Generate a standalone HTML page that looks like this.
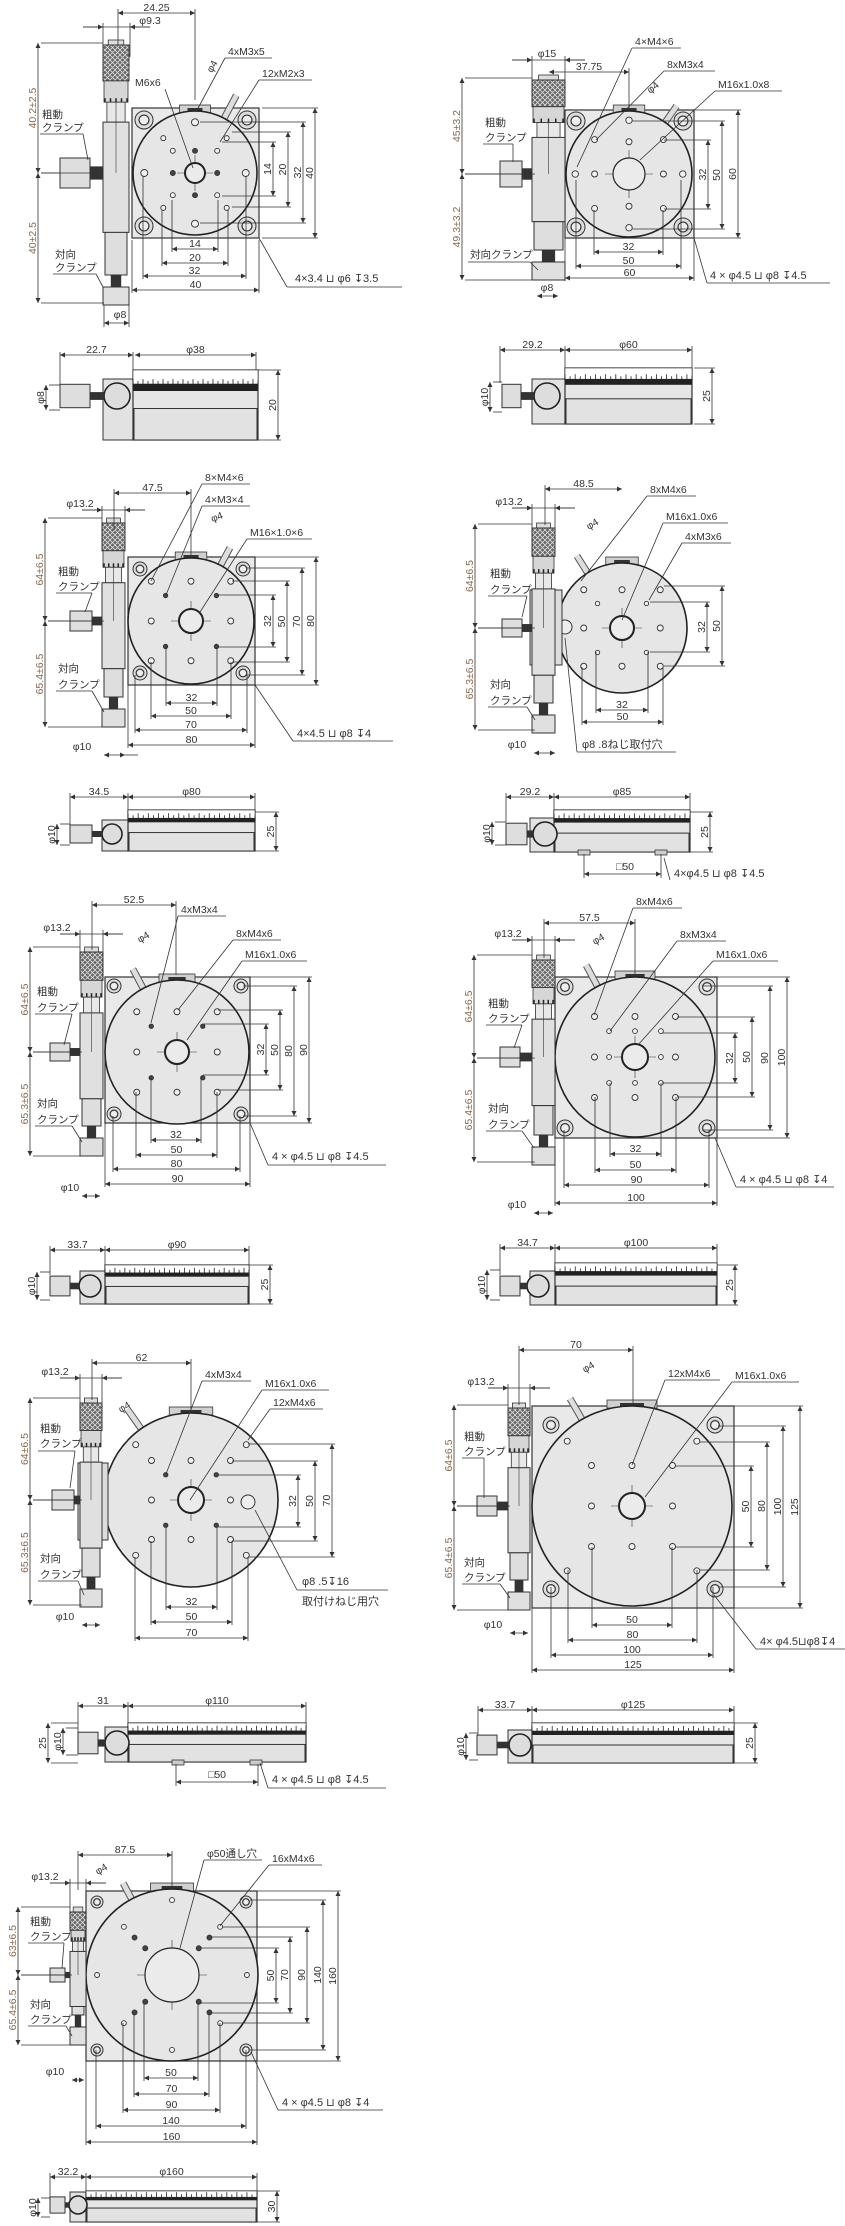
<!DOCTYPE html>
<html><head><meta charset="utf-8">
<style>
html,body{margin:0;padding:0;background:#fff;}
svg{display:block;}
text{font-family:"Liberation Sans","DejaVu Sans","Noto Sans CJK JP",sans-serif;fill:#333;}
</style></head>
<body>
<svg id="s" xmlns="http://www.w3.org/2000/svg" width="845" height="2226" viewBox="0 0 845 2226">
<defs>
<marker id="a" viewBox="0 0 10 10" refX="10" refY="5" markerWidth="7" markerHeight="5" orient="auto-start-reverse" markerUnits="userSpaceOnUse"><path d="M0,0L10,5L0,10z" fill="#333"/></marker>
<pattern id="kn" width="5" height="5" patternUnits="userSpaceOnUse"><rect width="5" height="5" fill="#666"/><path d="M0,0L5,5M5,0L0,5" stroke="#ddd" stroke-width="0.8"/></pattern>
</defs>
</svg>
<script>
var o='';
function L(x1,y1,x2,y2,w,c){o+='<line x1="'+x1+'" y1="'+y1+'" x2="'+x2+'" y2="'+y2+'" stroke="'+(c||'#333')+'" stroke-width="'+(w||0.8)+'"/>';}
function T(x,y,s,sz,an,rot,col){s=s.replace(/⌴/g,'⊔');o+='<text x="'+x+'" y="'+y+'" font-size="'+(sz||10.5)+'" text-anchor="'+(an||'middle')+'"'+(rot!=null?' transform="rotate('+rot+' '+x+' '+y+')"':'')+(col?' style="fill:'+col+'"':'')+'>'+s+'</text>';}
function R(x,y,w,h,f,sw,st){o+='<rect x="'+x+'" y="'+y+'" width="'+w+'" height="'+h+'" fill="'+(f||'#e4e4e4')+'" stroke="'+(st||'#333')+'" stroke-width="'+(sw==null?1:sw)+'"/>';}
function C(x,y,r,f,sw,st){o+='<circle cx="'+x+'" cy="'+y+'" r="'+r+'" fill="'+(f||'none')+'" stroke="'+(st||'#333')+'" stroke-width="'+(sw==null?1:sw)+'"/>';}
function AL(x1,y1,x2,y2){o+='<line x1="'+x1+'" y1="'+y1+'" x2="'+x2+'" y2="'+y2+'" stroke="#333" stroke-width="0.8" marker-start="url(#a)" marker-end="url(#a)"/>';}
function HD(x1,x2,y,t,ey1,ey2){AL(x1,y,x2,y);if(ey1!=null){L(x1,ey1,x1,y+3);L(x2,ey2==null?ey1:ey2,x2,y+3);}T((x1+x2)/2,y-2,t);}
function VD(x,y1,y2,t,ex1,ex2,col){AL(x,y1,x,y2);if(ex1!=null){L(ex1,y1,x+3,y1);L(ex2==null?ex1:ex2,y2,x+3,y2);}T(x-2,(y1+y2)/2,t,10.5,'middle',-90,col);}
var BR='#8b6a4a';
function LD(x,y,t,x2,px,py,ul){T(x,y,t,10.5,'start');var w=ul||t.length*6.2;L(x-3,y+3,x+w,y+3);L(x-3,y+3,px,py);}
function PH(x1,x2,y,t,tx){
 o+='<line x1="'+(x1-20)+'" y1="'+y+'" x2="'+x1+'" y2="'+y+'" stroke="#333" stroke-width="0.8" marker-end="url(#a)"/>';
 o+='<line x1="'+(x2+20)+'" y1="'+y+'" x2="'+x2+'" y2="'+y+'" stroke="#333" stroke-width="0.8" marker-end="url(#a)"/>';
 L(x1-20,y,x2+20,y);L(x1,y-4,x1,y+30);L(x2,y-4,x2,y+30);T(tx,y-3,t);}
function stage(p){
 var cx=p.cx,cy=p.cy,Rr=p.R;
 if(p.plate){var q=p.plate;R(q[0],q[1],q[2]-q[0],q[3]-q[1],'#e9e9e9',1.2);
  var i=p.cb,cr=p.cbR;[[q[0]+i,q[1]+i],[q[2]-i,q[1]+i],[q[0]+i,q[3]-i],[q[2]-i,q[3]-i]].forEach(function(c){C(c[0],c[1],cr,'#dedede',1);C(c[0],c[1],cr*0.55,'#eee',1.2);});}
 R(cx-Rr*0.25,cy-Rr-6,Rr*0.5,8,'#d0d0d0',0.8);R(cx-Rr*0.12,cy-Rr-3,Rr*0.24,4,'#333',0);
 var a=p.pin*Math.PI/180,px=cx+Rr*Math.cos(a),py=cy-Rr*Math.sin(a),px2=cx+(Rr+p.pl)*Math.cos(a),py2=cy-(Rr+p.pl)*Math.sin(a);
 L(px,py,px2,py2,7,'#555');L(px,py,px2,py2,5,'#ddd');
 C(cx,cy,Rr,'#e6e6e6',1.6,'#222');
 L(cx-p.ch-8,cy,cx+p.ch+8,cy,0.6);L(cx,cy-p.ch-8,cx,cy+p.ch+8,0.6);
 C(cx,cy,p.ch,'#ebebeb',p.ch>15?1.2:2,'#222');
 p.holes.forEach(function(h){var s=p.k;var pts=[];
  var sx=h[0]*s,sy=h[1]*s;var set={};[[sx,sy],[-sx,sy],[sx,-sy],[-sx,-sy]].forEach(function(v){var kk=v[0]+','+v[1];if(!set[kk]){set[kk]=1;pts.push(v);}});
  pts.forEach(function(v){C(cx+v[0],cy+v[1],h[2],h[3]?'#444':'#f2f2f2',0.9,'#333');});});
 if(p.big)C(p.big[0],p.big[1],p.big[2],'#eee',1);
 var c=p.col,l=c[0],r=c[1],t=c[2],b=c[3],w=r-l,H=cy-t;
 if(p.blk)R(p.blk[0],p.blk[1],p.blk[2]-p.blk[0],p.blk[3]-p.blk[1],'#dcdcdc',1);
 R(l+w*0.2,t,w*0.6,6,'#ddd',0.8);
 R(l,t+5,w,H*0.27,'url(#kn)',1);
 R(l+1,t+5+H*0.27,w-2,H*0.16,'#d6d6d6',0.8);
 for(var j=0;j<5;j++)L(l+2+j*(w-4)/4,t+5+H*0.43-4,l+2+j*(w-4)/4,t+5+H*0.43,1.5,'#222');
 R(l+w*0.15,t+5+H*0.43,w*0.7,H*0.15,'#e8e8e8',0.8);
 var bt=t+5+H*0.58;var bb=cy+(b-cy)*0.45;
 R(l,bt,w,bb-bt,'#e0e0e0',1);L(l+w/2,t+5+H*0.43,l+w/2,cy,0.6);
 R(l+2,bb,w-4,b-30-bb,'#dedede',1);
 R(l+w*0.3,b-30,w*0.4,12,'#333',0);
 R(l,b-18,w,18,'#e0e0e0',1);
 var ch=p.clh;R(p.clx+p.clw,cy-ch*0.22,l-p.clx-p.clw,ch*0.44,'#333',0);R(p.clx,cy-ch/2,p.clw,ch,'#dedede',1);
 var S=p.side,sh=S.y2-S.y1;
 R(S.bx,S.hy-S.hr-4,S.x1-S.bx,S.y2-(S.hy-S.hr-4),'#e2e2e2',1);
 R(S.x1,S.y1,S.x2-S.x1,sh,'#e6e6e6',1.2);
 R(S.x1,S.y1,S.x2-S.x1,sh*0.2,'#fff',0.6);
 var n=Math.round((S.x2-S.x1)/5);for(var j=0;j<=n;j++){var xx=S.x1+j*(S.x2-S.x1)/n;L(xx,S.y1+sh*0.2-(j%2?3:5),xx,S.y1+sh*0.2+2,0.8,'#222');}
 R(S.x1,S.y1+sh*0.2,S.x2-S.x1,sh*0.1,'#222',0);
 R(S.x1+1,S.y1+sh*0.55,S.x2-S.x1-2,sh*0.45,'#e2e2e2',1);
 C(S.hx,S.hy,S.hr,'#ddd',1.6,'#222');
 R(S.kx2,S.hy-S.hr*0.3,S.hx-S.hr-S.kx2,S.hr*0.6,'#333',0);
 R(S.kx1,S.hy-S.hr*0.9,S.kx2-S.kx1,S.hr*1.8,'#dedede',1);
 if(S.feet)S.feet.forEach(function(f){R(f,S.y2-2,12,5,'#ccc',0.8);});
}
stage({cx:195,cy:173,R:62,plate:[132,108,259,238],cb:12,cbR:9,k:3.17,ch:10,pin:62,pl:26,
 holes:[[16,0,3.5,0],[0,16,3.5,0],[7,0,2.5,1],[0,7,2.5,1],[7,7,2.5,0],[10,11,2.5,0]],
 col:[103,129,40,305],clx:60,clw:30,clh:30,
 side:{x1:133,x2:258,y1:370,y2:440,bx:103,hx:117,hy:396,hr:13,kx1:60,kx2:90}});
HD(118,195,13,'24.25');L(118,9,118,45);L(195,9,195,100);
PH(103,130,27,'φ9.3',150);
VD(38,43,173,'40.2±2.5',103,null,BR);VD(38,173,303,'40±2.5',60,104,BR);
VD(273,142,196,'14',222);VD(288,132,207,'20',232);VD(303,122,223,'32',200);VD(315,108,238,'40',262);
HD(172,218,249,'14',200);HD(162,228,263,'20',210);HD(143,246,276,'32',176);HD(132,259,290,'40',240);
LD(228,55,'4xM3x5',0,196,112,44);LD(262,77,'12xM2x3',0,220,142,50);
T(135,86,'M6x6',10.5,'start');L(165,89,193,168);
T(215,68,'φ4',10,'middle',-60);
T(42,118,'粗動',10.5,'start');T(42,131,'クランプ',10.5,'start');L(40,134,83,134);L(83,134,88,160);
T(55,258,'対向',10.5,'start');T(55,271,'クランプ',10.5,'start');L(53,274,96,274);L(96,274,103,287);
T(295,282,'4×3.4 ⌴ φ6 ↧3.5',11,'start');L(287,287,402,287);L(287,287,259,238);
HD(104,129,323,'');T(120,318,'φ8');L(104,305,104,327);L(129,305,129,327);
HD(60,133,355,'22.7');HD(135,256,355,'φ38');L(60,352,60,395);L(133,352,133,370);L(256,352,256,370);
VD(278,370,440,'20',258);VD(46,385,410,'φ8',60);
stage({cx:629,cy:174,R:63,plate:[565,110,694,238],cb:11,cbR:9,k:2.15,ch:16,pin:55,pl:20,
 holes:[[0,25,3.2,0],[0,15,3,0],[25,0,3.2,0],[16,0,3,0],[16,16,3,0]],
 col:[532,565,75,280],clx:500,clw:22,clh:26,
 side:{x1:565,x2:692,y1:368,y2:424,bx:532,hx:547,hy:396,hr:13,kx1:502,kx2:521}});
PH(532,565,60,'φ15',547);
HD(549,629,72,'37.75');L(629,68,629,110);
VD(462,78,174,'45±3.2',532,null,BR);VD(462,174,280,'49.3±3.2',535,null,BR);
VD(708,140,209,'32',664);VD(722,121,229,'50',632);VD(738,110,238,'60',694);
HD(594,663,252,'32',210);HD(576,681,266,'50',180);HD(565,694,278,'60',238);
LD(635,45,'4×M4×6',0,577,167,46);LD(667,68,'8xM3x4',0,596,140,48);LD(718,88,'M16x1.0x8',0,640,160,64);
T(655,90,'φ4',10,'middle',-40);
T(485,126,'粗動',10.5,'start');T(485,141,'クランプ',10.5,'start');L(483,144,513,144);L(513,144,513,162);
T(470,258,'対向クランプ',10.5,'start');L(468,262,530,262);L(530,262,538,270);
T(710,279,'4 × φ4.5 ⌴ φ8 ↧4.5',11,'start');L(707,283,830,283);L(707,283,694,238);
HD(537,558,296,'');T(547,291,'φ8');
HD(500,565,350,'29.2');HD(565,692,350,'φ60');L(500,346,500,383);L(565,346,565,368);L(692,346,692,368);
VD(712,368,424,'25',694);VD(490,382,412,'φ10',502);
stage({cx:191,cy:621,R:63,plate:[128,557,255,685],cb:12,cbR:7,k:1.59,ch:12,pin:62,pl:20,
 holes:[[25,25,3,0],[0,25,3,0],[25,0,3,0],[16,16,2.2,1]],
 col:[102,125,518,727],clx:70,clw:22,clh:20,
 side:{x1:128,x2:255,y1:810,y2:851,bx:102,hx:112,hy:834,hr:10,kx1:70,kx2:92}});
HD(114,191,493,'47.5');L(114,489,114,530);L(191,489,191,555);
PH(102,125,510,'φ13.2',80);
VD(45,518,621,'64±6.5',102,null,BR);VD(45,621,727,'65.4±6.5',104,null,BR);
VD(273,595,647,'32',218);VD(287,581,662,'50',232);VD(302,568,675,'70',246);VD(316,557,685,'80',255);
HD(166,217,703,'32',647);HD(151,231,716,'50',662);HD(135,247,730,'70',675);HD(128,255,745,'80',685);
LD(205,481,'8×M4×6',0,151,581,45);LD(205,503,'4×M3×4',0,166,595,45);LD(250,536,'M16×1.0×6',0,200,612,62);
T(218,520,'φ4',10,'middle',-20);
T(58,575,'粗動',10.5,'start');T(58,590,'クランプ',10.5,'start');L(56,593,92,593);L(92,593,85,612);
T(58,672,'対向',10.5,'start');T(58,688,'クランプ',10.5,'start');L(56,691,92,691);L(92,691,104,712);
T(297,737,'4×4.5 ⌴ φ8 ↧4',11,'start');L(293,741,393,741);L(293,741,255,685);
HD(104,125,755,'');T(82,750,'φ10');L(125,755,138,755);
HD(70,128,797,'34.5');HD(128,255,797,'φ80');L(70,793,70,826);L(128,793,128,810);L(255,793,255,810);
VD(276,812,851,'25',255);VD(57,824,845,'φ10',70);
stage({cx:622,cy:628,R:65,plate:null,k:1.53,ch:12,pin:122,pl:20,
 holes:[[25,25,3,0],[0,25,3,0],[25,0,3,0],[16,16,2.2,0]],big:[565,627,7],
 col:[532,555,523,733],clx:502,clw:20,clh:18,blk:[530,590,562,665],
 side:{x1:554,x2:690,y1:810,y2:852,bx:530,hx:545,hy:834,hr:12,kx1:506,kx2:527,feet:[578,655]}});
HD(545,622,489,'48.5');L(545,485,545,525);
PH(532,555,508,'φ13.2',509);
VD(475,524,628,'64±6.5',532,null,BR);VD(475,628,730,'65.3±6.5',535,null,BR);
VD(707,602,652,'32',650);VD(722,586,666,'50',664);
HD(596,648,710,'32',652);HD(582,663,722,'50',667);
LD(650,493,'8xM4x6',0,581,581,46);LD(666,520,'M16x1.0x6',0,622,620,62);LD(685,540,'4xM3x6',0,649,600,46);
T(594,527,'φ4',10,'middle',-30);
T(490,577,'粗動',10.5,'start');T(490,593,'クランプ',10.5,'start');L(488,596,527,596);L(527,596,522,617);
T(490,688,'対向',10.5,'start');T(490,704,'クランプ',10.5,'start');L(488,707,527,707);L(527,707,535,720);
T(582,748,'φ8 .8ねじ取付穴',11,'start');L(577,752,676,752);L(577,752,565,638);
HD(534,555,753,'');T(517,748,'φ10');
HD(506,554,797,'29.2');HD(554,690,797,'φ85');L(506,793,506,822);L(554,793,554,810);L(690,793,690,810);
VD(710,812,852,'25',690);VD(492,822,845,'φ10',506);
HD(584,661,874,'');T(625,870,'□50');L(584,854,584,878);L(661,854,661,878);
T(674,877,'4×φ4.5 ⌴ φ8 ↧4.5',11,'start');L(664,858,670,880);
stage({cx:177,cy:1052,R:72,plate:[105,977,250,1123],cb:9,cbR:7,k:1.61,ch:12,pin:118,pl:22,
 holes:[[25,25,3,0],[0,25,3,0],[25,0,3,0],[16,16,2.2,1]],
 col:[80,103,947,1156],clx:50,clw:20,clh:18,
 side:{x1:105,x2:249,y1:1265,y2:1304,bx:80,hx:90,hy:1286,hr:11,kx1:50,kx2:70}});
HD(92,176,905,'52.5');L(92,901,92,950);L(176,901,176,975);
PH(80,103,934,'φ13.2',57);
VD(30,947,1052,'64±6.5',80,null,BR);VD(30,1052,1156,'65.3±6.5',82,null,BR);
VD(266,1024,1075,'32',203);VD(280,1010,1090,'50',218);VD(294,986,1116,'80',243);VD(309,977,1123,'90',250);
HD(151,201,1140,'32',1077);HD(136,217,1155,'50',1092);HD(113,240,1169,'80',1116);HD(105,250,1184,'90',1123);
LD(181,913,'4xM3x4',0,151,1023,45);LD(236,937,'8xM4x6',0,178,1010,45);LD(245,958,'M16x1.0x6',0,187,1040,62);
T(145,940,'φ4',10,'middle',-30);
T(37,995,'粗動',10.5,'start');T(37,1011,'クランプ',10.5,'start');L(35,1014,72,1014);L(72,1014,64,1045);
T(37,1107,'対向',10.5,'start');T(37,1123,'クランプ',10.5,'start');L(35,1126,72,1126);L(72,1126,82,1142);
T(272,1160,'4 × φ4.5 ⌴ φ8 ↧4.5',11,'start');L(268,1165,386,1165);L(268,1165,250,1123);
HD(82,100,1196,'');T(70,1191,'φ10');
HD(50,105,1250,'33.7');HD(105,249,1250,'φ90');L(50,1246,50,1275);L(105,1246,105,1265);L(249,1246,249,1265);
VD(270,1265,1304,'25',249);VD(37,1272,1300,'φ10',50);
stage({cx:635,cy:1057,R:80,plate:[555,977,717,1138],cb:10,cbR:8,k:1.62,ch:13,pin:118,pl:24,
 holes:[[25,25,3,0],[0,25,3,0],[25,0,3,0],[16,0,2.4,0],[0,16,2.4,0],[16,16,2.4,0]],
 col:[532,555,955,1165],clx:500,clw:20,clh:20,
 side:{x1:555,x2:717,y1:1263,y2:1305,bx:530,hx:538,hy:1286,hr:11,kx1:500,kx2:520}});
HD(544,635,923,'57.5');L(544,919,544,958);L(635,919,635,975);
PH(532,555,940,'φ13.2',508);
VD(474,955,1058,'64±6.5',532,null,BR);VD(474,1058,1162,'65.4±6.5',535,null,BR);
VD(735,1033,1083,'32',662);VD(752,1017,1097,'50',677);VD(770,986,1130,'90',702);VD(787,977,1138,'100',717);
HD(610,661,1154,'32',1083);HD(595,676,1170,'50',1097);HD(564,709,1185,'90',1130);HD(555,717,1203,'100',1138);
LD(636,905,'8xM4x6',0,594,1015,46);LD(680,938,'8xM3x4',0,610,1031,46);LD(716,958,'M16x1.0x6',0,638,1045,62);
T(600,942,'φ4',10,'middle',-30);
T(488,1007,'粗動',10.5,'start');T(488,1022,'クランプ',10.5,'start');L(486,1025,522,1025);L(522,1025,514,1048);
T(488,1112,'対向',10.5,'start');T(488,1128,'クランプ',10.5,'start');L(486,1131,522,1131);L(522,1131,534,1148);
T(740,1183,'4 × φ4.5 ⌴ φ8 ↧4',11,'start');L(736,1187,834,1187);L(736,1187,715,1138);
HD(534,553,1213,'');T(517,1208,'φ10');
HD(500,555,1248,'34.7');HD(555,717,1248,'φ100');L(500,1244,500,1275);L(555,1244,555,1263);L(717,1244,717,1263);
VD(735,1265,1305,'25',717);VD(487,1270,1300,'φ10',500);
stage({cx:191,cy:1500,R:87,plate:null,k:1.58,ch:13,pin:125,pl:24,
 holes:[[35,35,3,0],[25,25,3,0],[0,25,3,0],[25,0,3,0],[16,16,2.2,1]],big:[248,1502,7],
 col:[80,102,1398,1607],clx:52,clw:22,clh:20,blk:[78,1463,108,1540],
 side:{x1:128,x2:306,y1:1723,y2:1762,bx:105,hx:117,hy:1743,hr:12,kx1:78,kx2:98,feet:[172,250]}});
HD(92,191,1363,'62');L(92,1359,92,1400);L(191,1359,191,1410);
PH(80,102,1378,'φ13.2',55);
VD(30,1398,1500,'64±6.5',80,null,BR);VD(30,1500,1605,'65.3±6.5',82,null,BR);
VD(298,1475,1527,'32',218);VD(315,1461,1541,'50',232);VD(332,1444,1557,'70',248);
HD(166,217,1607,'32',1527);HD(151,232,1622,'50',1541);HD(135,248,1638,'70',1557);
LD(205,1378,'4xM3x4',0,166,1474,46);LD(265,1387,'M16x1.0x6',0,190,1500,64);LD(273,1406,'12xM4x6',0,248,1440,50);
T(126,1410,'φ4',10,'middle',-30);
T(40,1432,'粗動',10.5,'start');T(40,1447,'クランプ',10.5,'start');L(38,1451,75,1451);L(75,1451,70,1488);
T(40,1562,'対向',10.5,'start');T(40,1578,'クランプ',10.5,'start');L(38,1581,78,1581);L(78,1581,84,1595);
T(302,1585,'φ8 .5↧16',11,'start');T(302,1605,'取付けねじ用穴',11,'start');L(297,1590,388,1590);L(297,1590,255,1510);
HD(82,100,1625,'');T(65,1620,'φ10');
HD(78,128,1706,'31');HD(128,306,1706,'φ110');L(78,1702,78,1735);L(128,1702,128,1723);L(306,1702,306,1723);
VD(48,1723,1763,'25',78);VD(63,1728,1755,'φ10',78);
HD(176,258,1782,'');T(217,1778,'□50');L(176,1764,176,1786);L(258,1764,258,1786);
T(272,1783,'4 × φ4.5 ⌴ φ8 ↧4.5',11,'start');L(268,1788,386,1788);L(268,1788,260,1763);
stage({cx:632,cy:1506,R:100,plate:[532,1406,734,1608],cb:19,cbR:8,k:1.62,ch:13,pin:120,pl:24,
 holes:[[40,40,3,0],[25,25,3,0],[0,25,3,0],[25,0,3,0]],
 col:[508,530,1403,1610],clx:477,clw:20,clh:20,
 side:{x1:532,x2:734,y1:1723,y2:1763,bx:508,hx:520,hy:1745,hr:11,kx1:477,kx2:497}});
HD(519,633,1350,'70');L(519,1346,519,1405);L(633,1346,633,1405);
PH(508,530,1388,'φ13.2',481);
VD(454,1405,1506,'64±6.5',508,null,BR);VD(454,1506,1610,'65.4±6.5',510,null,BR);
VD(751,1466,1547,'50',675);VD(767,1442,1570,'80',700);VD(783,1426,1587,'100',718);VD(800,1406,1608,'125',734);
HD(592,672,1625,'50',1547);HD(568,697,1640,'80',1570);HD(551,713,1655,'100',1587);HD(532,734,1670,'125',1608);
LD(668,1377,'12xM4x6',0,632,1465,52);LD(735,1379,'M16x1.0x6',0,645,1497,64);
T(590,1370,'φ4',10,'middle',-30);
T(464,1440,'粗動',10.5,'start');T(464,1455,'クランプ',10.5,'start');L(462,1458,484,1458);L(484,1458,484,1498);
T(464,1566,'対向',10.5,'start');T(464,1581,'クランプ',10.5,'start');L(462,1584,500,1584);L(500,1584,510,1598);
T(760,1645,'4× φ4.5⌴φ8↧4',11,'start');L(756,1649,845,1649);L(756,1649,714,1595);
HD(510,528,1633,'');T(493,1628,'φ10');
HD(478,532,1710,'33.7');HD(532,734,1710,'φ125');L(478,1706,478,1735);L(532,1706,532,1723);L(734,1706,734,1723);
VD(755,1723,1763,'25',734);VD(466,1733,1760,'φ10',478);
stage({cx:172,cy:1975,R:86,plate:[86,1891,257,2061],cb:11,cbR:6,k:1.07,ch:27,pin:118,pl:18,
 holes:[[45,45,2.5,0],[35,35,2.5,1],[25,25,2.5,1],[0,70,2.5,0],[70,0,2.5,0]],
 col:[70,86,1907,2045],clx:50,clw:15,clh:14,
 side:{x1:86,x2:257,y1:2191,y2:2222,bx:70,hx:78,hy:2205,hr:9,kx1:50,kx2:65}});
HD(78,172,1855,'87.5');L(78,1851,78,1890);L(172,1851,172,1890);
PH(70,86,1883,'φ13.2',45);
VD(18,1907,1975,'63±6.5',70,null,BR);VD(18,1975,2045,'65.4±6.5',72,null,BR);
VD(276,1948,2003,'50',200);VD(290,1937,2013,'70',210);VD(307,1927,2023,'90',222);VD(323,1900,2050,'140',250);VD(338,1891,2061,'160',257);
HD(144,198,2078,'50',2003);HD(134,209,2094,'70',2013);HD(123,220,2110,'90',2023);HD(96,246,2126,'140',2050);HD(86,257,2142,'160',2061);
LD(207,1857,'φ50通し穴',0,180,1948,55);LD(272,1862,'16xM4x6',0,220,1926,50);
T(103,1872,'φ4',10,'middle',-30);
T(30,1925,'粗動',10.5,'start');T(30,1940,'クランプ',10.5,'start');L(28,1943,64,1943);L(64,1943,62,1968);
T(30,2008,'対向',10.5,'start');T(30,2023,'クランプ',10.5,'start');L(28,2026,66,2026);L(66,2026,72,2036);
T(282,2106,'4 × φ4.5 ⌴ φ8 ↧4',11,'start');L(278,2110,383,2110);L(278,2110,251,2052);
HD(72,84,2080,'');T(55,2075,'φ10');
HD(50,86,2177,'32.2');HD(86,257,2177,'φ160');L(50,2173,50,2200);L(86,2173,86,2191);L(257,2173,257,2191);
VD(277,2191,2222,'30',257);VD(38,2198,2217,'φ10',50);
document.getElementById('s').insertAdjacentHTML('beforeend',o);
</script>
</body></html>
